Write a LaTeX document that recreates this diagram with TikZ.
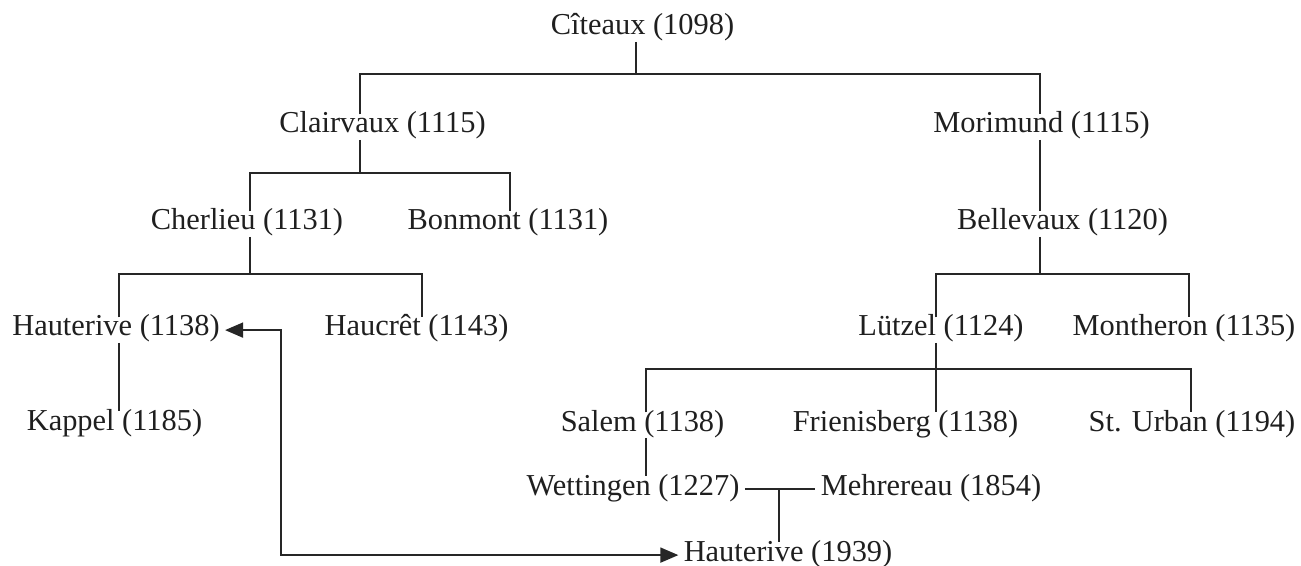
\documentclass[tikz,border=0pt]{standalone}
\usepackage{fontspec}
\setmainfont{Liberation Serif}
\usetikzlibrary{arrows.meta}
\begin{document}
\begin{tikzpicture}[x=0.5pt,y=-0.5pt,
  abbey/.style={anchor=base, inner xsep=2.5pt, inner ysep=2.5pt,
    text height=0.66em, text depth=0.07em, text=black!88,
    font=\fontsize{15.2}{18}\selectfont},
  link/.style={draw=black!85, line width=0.9pt},
  filiation/.style={link, {Triangle[length=9pt,width=7.5pt]}-{Triangle[length=9pt,width=7.5pt]}}]
\useasboundingbox[fill=white] (0,0) rectangle (1301,566);

% abbeys, placed on their baselines
\node[abbey] (citeaux)     at (642.5,35)  {Cîteaux (1098)};
\node[abbey] (clairvaux)   at (382.5,133) {Clairvaux (1115)};
\node[abbey] (morimund)    at (1041.5,133){Morimund (1115)};
\node[abbey] (cherlieu)    at (247,230)   {Cherlieu (1131)};
\node[abbey] (bonmont)     at (508,230)   {Bonmont (1131)};
\node[abbey] (bellevaux)   at (1062.5,230){Bellevaux (1120)};
\node[abbey] (hauterive)   at (116,336)   {Hauterive (1138)};
\node[abbey] (haucret)     at (416.5,336) {Haucrêt (1143)};
\node[abbey] (luetzel)     at (941,336)   {Lützel (1124)};
\node[abbey] (montheron)   at (1184,336)  {Montheron (1135)};
\node[abbey] (kappel)      at (114.5,430) {Kappel (1185)};
\node[abbey] (salem)       at (642.5,431) {Salem (1138)};
\node[abbey] (frienisberg) at (905.5,431) {Frienisberg (1138)};
\node[abbey] (urban)       at (1192,431)  {St. Urban (1194)};
\node[abbey] (wettingen)   at (633,495)   {Wettingen (1227)};
\node[abbey] (mehrereau)   at (931,495)   {Mehrereau (1854)};
\node[abbey] (hauterivenew) at (788,561)  {Hauterive (1939)};

% corners of the family tree
\coordinate (a1) at (636,74);
\coordinate (b1l) at (360,74);   \coordinate (b1r) at (1040,74);
\coordinate (b2l) at (250,173);  \coordinate (b2r) at (510,173);
\coordinate (c2)  at (360,173);
\coordinate (b3l) at (119,274);  \coordinate (b3r) at (422,274);
\coordinate (c3)  at (250,274);
\coordinate (b4l) at (936,274);  \coordinate (b4r) at (1189,274);
\coordinate (c4)  at (1040,274);
\coordinate (b5l) at (646,369);  \coordinate (b5r) at (1191,369);
\coordinate (jm)  at (779,0);
\coordinate (turn) at (281,0);

% Citeaux and its first daughters
\draw[link] (citeaux.south -| a1) -- (a1);
\draw[link] (clairvaux.north -| b1l) -- (b1l) -- (b1r) -- (morimund.north -| b1r);

% Clairvaux line
\draw[link] (clairvaux.south -| c2) -- (c2);
\draw[link] (cherlieu.north -| b2l) -- (b2l) -- (b2r) -- (bonmont.north -| b2r);
\draw[link] (cherlieu.south -| c3) -- (c3);
\draw[link] (hauterive.north -| b3l) -- (b3l) -- (b3r) -- (haucret.north -| b3r);
\draw[link] (hauterive.south -| b3l) -- (kappel.north -| b3l);

% Morimund line
\draw[link] (morimund.south -| b1r) -- (bellevaux.north -| b1r);
\draw[link] (bellevaux.south -| c4) -- (c4);
\draw[link] (luetzel.north -| b4l) -- (b4l) -- (b4r) -- (montheron.north -| b4r);
\draw[link] (luetzel.south -| b4l) -- (frienisberg.north -| b4l);
\draw[link] (salem.north -| b5l) -- (b5l) -- (b5r) -- (urban.north -| b5r);
\draw[link] (salem.south -| b5l) -- (wettingen.north -| b5l);

% Wettingen and Mehrerau to the new Hauterive
\draw[link] (wettingen.east) -- (mehrereau.west);
\draw[link] (wettingen.east -| jm) -- (hauterivenew.north -| jm);

% old and new Hauterive
\draw[filiation] (hauterive.east) -| (hauterivenew.west -| turn) -- (hauterivenew.west);
\end{tikzpicture}
\end{document}
